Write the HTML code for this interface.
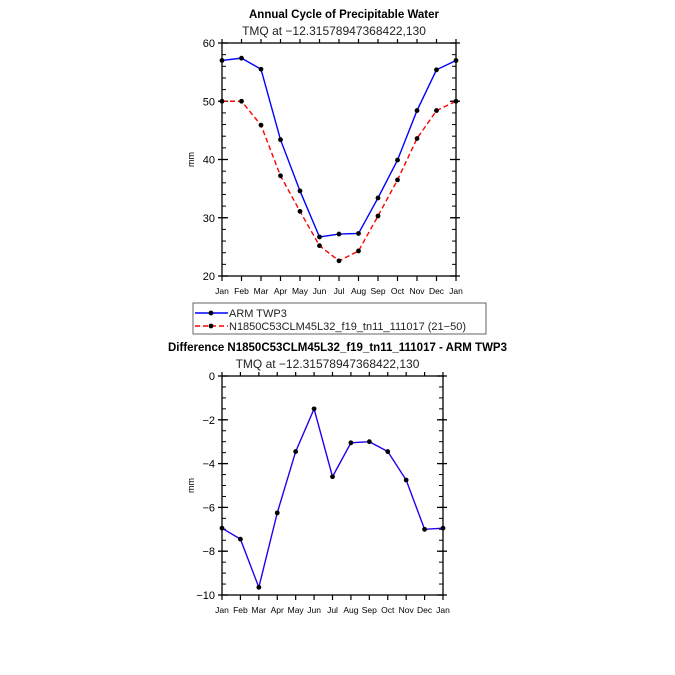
<!DOCTYPE html>
<html><head><meta charset="utf-8"><style>
html,body{margin:0;padding:0;background:#fff;}
svg{display:block;font-family:"Liberation Sans",sans-serif;}
</style></head><body>
<svg id="c" width="675" height="675"></svg>
<script>
const months=["Jan","Feb","Mar","Apr","May","Jun","Jul","Aug","Sep","Oct","Nov","Dec","Jan"];
const armValues=[57,57.4,55.5,43.4,34.6,26.7,27.2,27.3,33.4,39.9,48.4,55.4,57];
const modelValues=[50,50,45.9,37.2,31.1,25.2,22.6,24.3,30.3,36.5,43.6,48.4,50];
const diffValues=[-6.95,-7.45,-9.65,-6.25,-3.45,-1.5,-4.6,-3.05,-3.0,-3.45,-4.75,-7.0,-6.95];
const topTicks=[20,30,40,50,60];
const diffTicks=[0,-2,-4,-6,-8,-10];
const NS="http://www.w3.org/2000/svg";
const svg=document.getElementById('c');
function el(t,a,p){const e=document.createElementNS(NS,t);for(const k in a)e.setAttribute(k,a[k]);(p||svg).appendChild(e);return e;}
function txt(s,a,p){const e=el('text',a,p);e.textContent=s;return e;}
function panel(name,L,R,T,B,ymin,ymax,ticks,minorStep,series,title,titleY){
  const g=el('g',{});
  
  
  const xs=i=>L+(R-L)*i/12;
  const ys=v=>B-(v-ymin)/(ymax-ymin)*(B-T);
  const t1=txt(title,{x:(L+R)/2+5,y:titleY,'text-anchor':'middle','font-size':11.5,'font-weight':'bold'},g);
  
  
  const t2=txt('TMQ at \u221212.31578947368422,130',{x:(L+R)/2-5,y:titleY+17,'text-anchor':'middle','font-size':12,fill:'#222'},g);
  
  
  const yl=txt('mm',{x:0,y:0,'font-size':9,'text-anchor':'middle',transform:`translate(${L-28},${(T+B)/2}) rotate(-90)`},g);
  
  
  for(let v=ymin;v<=ymax+1e-9;v+=minorStep){const y=ys(v);
    el('line',{x1:L,x2:L+4,y1:y,y2:y,stroke:'#000','stroke-width':1},g);
    el('line',{x1:R,x2:R-4,y1:y,y2:y,stroke:'#000','stroke-width':1},g);}
  ticks.forEach(v=>{const y=ys(v);
    el('line',{x1:L-4,x2:L+6,y1:y,y2:y,stroke:'#000','stroke-width':1.3},g);
    el('line',{x1:R+4,x2:R-6,y1:y,y2:y,stroke:'#000','stroke-width':1.3},g);
    const t=txt(String(v).replace('-','\u2212'),{x:L-7,y:y+4,'text-anchor':'end','font-size':11},g);
    
    });
  months.forEach((m,i)=>{const x=xs(i);
    el('line',{x1:x,x2:x,y1:B,y2:B+5,stroke:'#000','stroke-width':1.2},g);
    el('line',{x1:x,x2:x,y1:T,y2:T-4,stroke:'#000','stroke-width':1.2},g);
    const t=txt(m,{x:x,y:B+18,'text-anchor':'middle','font-size':8.5},g);
    
    });
  const fr=el('rect',{x:L,y:T,width:R-L,height:B-T,fill:'none',stroke:'#000','stroke-width':1.3},g);
  
  
  series.forEach(s=>{
    const p=el('polyline',{points:s.vals.map((v,i)=>xs(i)+','+ys(v)).join(' '),fill:'none',stroke:s.color,'stroke-width':1.4,'stroke-dasharray':s.dash||''},g);
    
    
    s.vals.forEach((v,i)=>{const c=el('circle',{cx:xs(i),cy:ys(v),r:2.4,fill:'#000'},g);
      
      });
  });
}
panel('top-panel',222,456,43,276,20,60,topTicks,2,[
  {name:'arm',vals:armValues,color:'#0000ff'},
  {name:'model',vals:modelValues,color:'#ff0000',dash:'5,3'}],'Annual Cycle of Precipitable Water',18);
panel('diff-panel',222,443,376,595,-10,0,diffTicks,0.5,[
  {name:'diff',vals:diffValues,color:'#2200ee'}],'Difference N1850C53CLM45L32_f19_tn11_111017 - ARM TWP3',351);
const lg=el('g',{});


el('rect',{x:193,y:303,width:293,height:31,fill:'#fff',stroke:'#666','stroke-width':1},lg);
el('line',{x1:195,x2:228,y1:313,y2:313,stroke:'#0000ff','stroke-width':1.4},lg);
el('circle',{cx:211,cy:313,r:2.4,fill:'#000'},lg);
txt('ARM  TWP3',{x:229,y:317,'font-size':11,fill:'#222'},lg);
el('line',{x1:195,x2:228,y1:326,y2:326,stroke:'#ff0000','stroke-width':1.4,'stroke-dasharray':'5,3'},lg);
el('circle',{cx:211,cy:326,r:2.4,fill:'#000'},lg);
txt('N1850C53CLM45L32_f19_tn11_111017 (21\u221250)',{x:229,y:330,'font-size':11,fill:'#222'},lg);
</script>
</body></html>
